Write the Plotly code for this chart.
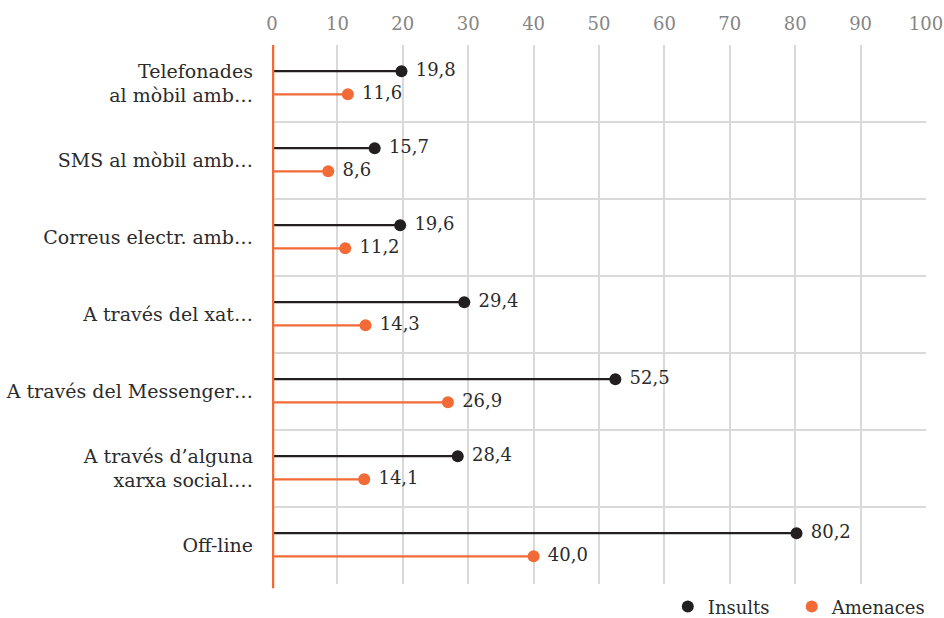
import plotly.graph_objects as go

categories = [
    "Telefonades<br>al mòbil amb…",
    "SMS al mòbil amb…",
    "Correus electr. amb…",
    "A través del xat…",
    "A través del Messenger…",
    "A través d’alguna<br>xarxa social.…",
    "Off-line",
]
insults = [19.8, 15.7, 19.6, 29.4, 52.5, 28.4, 80.2]
amenaces = [11.6, 8.6, 11.2, 14.3, 26.9, 14.1, 40.0]
x_ticks = list(range(0, 101, 10))
series_names = ["Insults", "Amenaces"]

BLACK = "#231f20"
ORANGE = "#f26a35"
FONT = "DejaVu Serif"
TEXT = "#2b2b2b"

pos = list(range(len(categories)))
y_ins = [p - 0.16 for p in pos]
y_ame = [p + 0.14 for p in pos]


def fmt(v):
    return " " + f"{v:.1f}".replace(".", ",")


def seg(vals, ys):
    xs, yy = [], []
    for v, y in zip(vals, ys):
        xs += [0, v, None]
        yy += [y, y, None]
    return xs, yy


fig = go.Figure()
for vals, ys, color, name, pad in [
    (insults, y_ins, BLACK, series_names[0], "\u00a0\u00a0\u00a0"),
    (amenaces, y_ame, ORANGE, series_names[1], ""),
]:
    sx, sy = seg(vals, ys)
    fig.add_trace(go.Scatter(x=sx, y=sy, mode="lines", line=dict(color=color, width=2.2),
                             showlegend=False, hoverinfo="skip"))
    fig.add_trace(go.Scatter(x=vals, y=ys, mode="markers+text", name=name + pad,
                             marker=dict(color=color, size=12),
                             text=[fmt(v) for v in vals], textposition="middle right",
                             textfont=dict(family=FONT, size=18, color=TEXT),
                             cliponaxis=False))

fig.add_shape(type="line", xref="x", yref="paper", x0=0, x1=0, y0=-0.008, y1=1,
              line=dict(color=ORANGE, width=4.5), layer="above")

fig.update_layout(
    width=944, height=618,
    margin=dict(l=272, r=18, t=45, b=34, autoexpand=False),
    paper_bgcolor="white", plot_bgcolor="white",
    font=dict(family=FONT, size=18, color=TEXT),
    xaxis=dict(side="top", range=[0, 100], tickvals=x_ticks, showgrid=True,
               gridcolor="#d9d9d9", gridwidth=1.5, zeroline=False, showline=False,
               ticks="", automargin=False, ticklabelstandoff=10,
               tickfont=dict(family=FONT, size=18, color="#858585")),
    yaxis=dict(range=[len(categories) - 0.5, -0.5], tickvals=pos, ticktext=categories,
               showgrid=False, zeroline=False, showline=False, ticks="", automargin=False,
               ticklabelstandoff=18, tickfont=dict(family=FONT, size=19, color=TEXT),
               minor=dict(tickvals=[p + 0.5 for p in range(-1, len(categories))],
                          showgrid=True, gridcolor="#d9d9d9", gridwidth=1.5, ticks="")),
    legend=dict(orientation="h", x=0.986, xanchor="right", xref="container",
                y=0.018, yanchor="middle", yref="container", itemwidth=30,
                font=dict(family=FONT, size=18, color=TEXT)),
    showlegend=True,
)

fig.write_html("out.html", post_script="document.body.style.margin='0';",
               config={"displayModeBar": False})
